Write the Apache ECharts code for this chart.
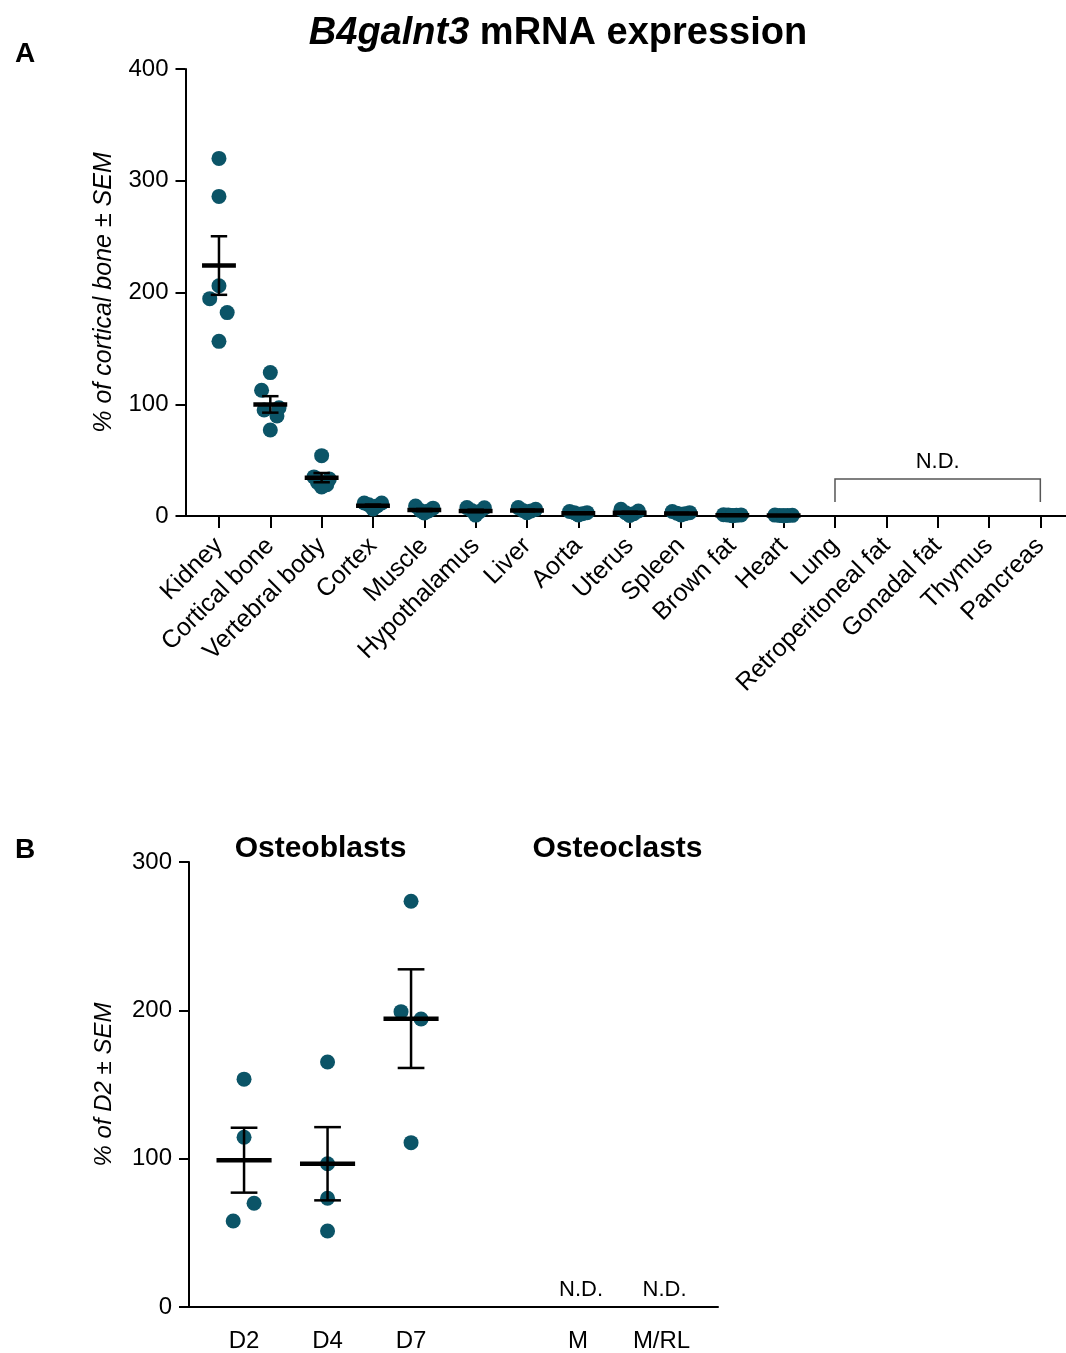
<!DOCTYPE html>
<html>
<head>
<meta charset="utf-8">
<script src="https://cdn.jsdelivr.net/npm/echarts@6/dist/echarts.min.js"></script>
<style>
html,body{margin:0;padding:0;background:#fff;}
#chart{width:1066px;height:1353px;}
</style>
</head>
<body>
<div id="chart"></div>
<script>
// ---------- Panel A data ----------
const tissues = ['Kidney','Cortical bone','Vertebral body','Cortex','Muscle','Hypothalamus','Liver','Aorta','Uterus','Spleen','Brown fat','Heart','Lung','Retroperitoneal fat','Gonadal fat','Thymus','Pancreas'];
const kidney        = [320, 286, 206, 194.5, 182, 156.3];
const corticalBone  = [128.3, 112.5, 94.9, 96.9, 89.5, 77];
const vertebralBody = [54, 35, 33, 30, 28, 26];
const cortex        = [11.6, 11.6, 10, 9, 7, 6.3];
const muscle        = [9, 7, 5, 4.5, 3.5, 2.7];
const hypothalamus  = [7.5, 7.3, 5, 4, 2.5, 0.8];
const liver         = [7.5, 6, 5, 4.5, 3.5, 3];
const aorta         = [4, 3, 3, 2, 1.5, 1];
const uterus        = [6, 4.5, 3, 2, 1, 0.5];
const spleen        = [4, 3, 2.5, 2, 1.5, 1];
const brownFat      = [1.2, 1, 0.8, 0.6, 0.4, 0.3];
const heart         = [0.8, 0.6, 0.5, 0.4, 0.3, 0.2];
const notDetectedA  = ['Lung','Retroperitoneal fat','Gonadal fat','Thymus','Pancreas'];
const ticksA = [0, 100, 200, 300, 400];

// horizontal scatter spread of each dot (fraction of category width)
const spreadKidney   = [0, 0, 0, -0.18, 0.16, 0];
const spreadCortical = [0, -0.17, -0.12, 0.17, 0.13, 0];
const spreadVert     = [0, -0.15, 0.15, -0.08, 0.1, 0];
const spreadSmall    = [-0.17, 0.17, -0.08, 0.08, 0, 0];

// ---------- Panel B data ----------
const cellGroups = ['D2','D4','D7','','M','M/RL'];
const d2 = [153.6, 114.4, 69.9, 58];
const d4 = [165.2, 96.6, 73.3, 51.2];
const d7 = [273.5, 199.1, 194.2, 110.8];
const notDetectedB = ['M','M/RL'];
const ticksB = [0, 100, 200, 300];
const spreadD2 = [0, 0, 0.12, -0.13];
const spreadD4 = [0, 0, 0, 0];
const spreadD7 = [0, -0.12, 0.12, 0];

// ---------- helpers ----------
function mean(a){ return a.reduce((s,v)=>s+v,0)/a.length; }
function sem(a){ const m=mean(a); const sd=Math.sqrt(a.reduce((s,v)=>s+(v-m)*(v-m),0)/(a.length-1)); return sd/Math.sqrt(a.length); }

const groupsA = [kidney, corticalBone, vertebralBody, cortex, muscle, hypothalamus, liver, aorta, uterus, spleen, brownFat, heart];
const spreadsA = [spreadKidney, spreadCortical, spreadVert, spreadSmall, spreadSmall, spreadSmall, spreadSmall, spreadSmall, spreadSmall, spreadSmall, spreadSmall, spreadSmall];
const groupsB = [d2, d4, d7];
const spreadsB = [spreadD2, spreadD4, spreadD7];

const dotsA = [], statsA = [];
groupsA.forEach((g,i)=>{ g.forEach((v,j)=>dotsA.push([i+spreadsA[i][j], v])); statsA.push([i, mean(g), sem(g)]); });
const dotsB = [], statsB = [];
groupsB.forEach((g,i)=>{ g.forEach((v,j)=>dotsB.push([i+spreadsB[i][j], v])); statsB.push([i, mean(g), sem(g)]); });
const ndA = [[tissues.indexOf(notDetectedA[0]), tissues.indexOf(notDetectedA[notDetectedA.length-1])]];
const ndB = notDetectedB.map(n=>[cellGroups.indexOf(n), 0]);

const FONT = "'Liberation Sans', Arial, Helvetica, sans-serif";
const DOT = '#0b5467';

function meanSemItem(params, api){
  const x = api.value(0), m = api.value(1), s = api.value(2);
  const c = api.coord([x, m]);
  const t = api.coord([x, m + s]);
  const b = api.coord([x, m - s]);
  const band = api.size([1, 0])[0];
  const capW = band * 0.32, meanW = band * 0.66;
  return { type:'group', children:[
    {type:'line', shape:{x1:c[0], y1:t[1], x2:c[0], y2:b[1]}, style:{stroke:'#000', lineWidth:2.5}},
    {type:'line', shape:{x1:c[0]-capW/2, y1:t[1], x2:c[0]+capW/2, y2:t[1]}, style:{stroke:'#000', lineWidth:2.5}},
    {type:'line', shape:{x1:c[0]-capW/2, y1:b[1], x2:c[0]+capW/2, y2:b[1]}, style:{stroke:'#000', lineWidth:2.5}},
    {type:'line', shape:{x1:c[0]-meanW/2, y1:c[1], x2:c[0]+meanW/2, y2:c[1]}, style:{stroke:'#000', lineWidth:4.5}}
  ]};
}

const axisBlack = {show:true, onZero:false, lineStyle:{color:'#000', width:2}};
const chart = echarts.init(document.getElementById('chart'), null, {renderer:'canvas'});
chart.setOption({
  animation:false,
  backgroundColor:'#fff',
  textStyle:{fontFamily:FONT},
  title:[
    {text:'{i|B4galnt3} mRNA expression', left:553, top:10, textAlign:'center',
     textStyle:{fontFamily:FONT, fontSize:38, fontWeight:'bold', color:'#000',
       rich:{i:{fontFamily:FONT, fontSize:38, fontWeight:'bold', fontStyle:'italic', color:'#000'}}}},
    {text:'A', left:10, top:35, textStyle:{fontFamily:FONT, fontSize:28, fontWeight:'bold', color:'#000'}},
    {text:'B', left:10, top:831, textStyle:{fontFamily:FONT, fontSize:28, fontWeight:'bold', color:'#000'}},
    {text:'Osteoblasts', left:315.5, top:829, textAlign:'center', textStyle:{fontFamily:FONT, fontSize:30, fontWeight:'bold', color:'#000'}},
    {text:'Osteoclasts', left:612.5, top:829, textAlign:'center', textStyle:{fontFamily:FONT, fontSize:30, fontWeight:'bold', color:'#000'}}
  ],
  grid:[
    {left:193.3, top:69, width:873.7, height:447},
    {left:185.5, top:69, width:880.5, height:447},
    {left:202.3, top:862, width:501, height:445},
    {left:189, top:862, width:529, height:445}
  ],
  xAxis:[
    {type:'category', gridIndex:0, data:tissues, boundaryGap:true,
     axisLine:{show:false, onZero:false}, axisTick:{show:true, alignWithLabel:true, length:12, lineStyle:{color:'#000', width:2}},
     axisLabel:{rotate:45, margin:26, fontSize:25, color:'#000', fontFamily:FONT, interval:0}, splitLine:{show:false}},
    {type:'value', gridIndex:0, min:-0.5, max:tissues.length-0.5, show:false},
    {type:'value', gridIndex:1, min:0, max:1, axisLine:{show:true, onZero:false, lineStyle:{color:'#000', width:2}}, axisTick:{show:false}, axisLabel:{show:false}, splitLine:{show:false}},
    {type:'category', gridIndex:2, data:cellGroups, boundaryGap:true,
     axisLine:{show:false, onZero:false}, axisTick:{show:false},
     axisLabel:{margin:22, fontSize:24, color:'#000', fontFamily:FONT, interval:0}, splitLine:{show:false}},
    {type:'value', gridIndex:2, min:-0.5, max:cellGroups.length-0.5, show:false},
    {type:'value', gridIndex:3, min:0, max:1, axisLine:{show:true, onZero:false, lineStyle:{color:'#000', width:2}}, axisTick:{show:false}, axisLabel:{show:false}, splitLine:{show:false}}
  ],
  yAxis:[
    {type:'value', gridIndex:0, min:ticksA[0], max:ticksA[ticksA.length-1], interval:100, offset:7.8,
     axisLine:axisBlack, axisTick:{show:true, length:10, lineStyle:{color:'#000', width:2}},
     axisLabel:{margin:17, fontSize:24, color:'#000', fontFamily:FONT}, splitLine:{show:false},
     name:'% of cortical bone ± SEM', nameLocation:'middle', nameRotate:90, nameGap:69,
     nameTextStyle:{fontSize:25, fontStyle:'italic', color:'#000', fontFamily:FONT}},
    {type:'value', gridIndex:1, min:0, max:1, show:false},
    {type:'value', gridIndex:2, min:ticksB[0], max:ticksB[ticksB.length-1], interval:100, offset:13.3,
     axisLine:axisBlack, axisTick:{show:true, length:10, lineStyle:{color:'#000', width:2}},
     axisLabel:{margin:17, fontSize:24, color:'#000', fontFamily:FONT}, splitLine:{show:false},
     name:'% of D2 ± SEM', nameLocation:'middle', nameRotate:90, nameGap:73,
     nameTextStyle:{fontSize:24, fontStyle:'italic', color:'#000', fontFamily:FONT}},
    {type:'value', gridIndex:3, min:0, max:1, show:false}
  ],
  series:[
    {type:'scatter', xAxisIndex:1, yAxisIndex:0, data:dotsA, symbolSize:15, itemStyle:{color:DOT, opacity:1}, z:2},
    {type:'custom', xAxisIndex:1, yAxisIndex:0, data:statsA, renderItem:meanSemItem, z:3},
    {type:'custom', xAxisIndex:1, yAxisIndex:0, data:ndA, z:3, clip:false,
     renderItem:function(params, api){
       const p1 = api.coord([api.value(0), 0]);
       const p2 = api.coord([api.value(1), 0]);
       const top = p1[1]-37, low = p1[1]-14;
       return {type:'group', children:[
         {type:'polyline', shape:{points:[[p1[0],low],[p1[0],top],[p2[0],top],[p2[0],low]]}, style:{stroke:'#555', lineWidth:1.5, fill:null}},
         {type:'text', style:{x:(p1[0]+p2[0])/2, y:top-6, text:'N.D.', textAlign:'center', textVerticalAlign:'bottom', font:'22px '+FONT, fill:'#000'}}
       ]};
     }},
    {type:'scatter', xAxisIndex:4, yAxisIndex:2, data:dotsB, symbolSize:15, itemStyle:{color:DOT, opacity:1}, z:2},
    {type:'custom', xAxisIndex:4, yAxisIndex:2, data:statsB, renderItem:meanSemItem, z:3},
    {type:'custom', xAxisIndex:4, yAxisIndex:2, data:ndB, z:3, clip:false,
     renderItem:function(params, api){
       const p = api.coord([api.value(0), api.value(1)]);
       return {type:'text', style:{x:p[0]+3, y:p[1]-6, text:'N.D.', textAlign:'center', textVerticalAlign:'bottom', font:'22px '+FONT, fill:'#000'}};
     }}
  ]
});
</script>
</body>
</html>
